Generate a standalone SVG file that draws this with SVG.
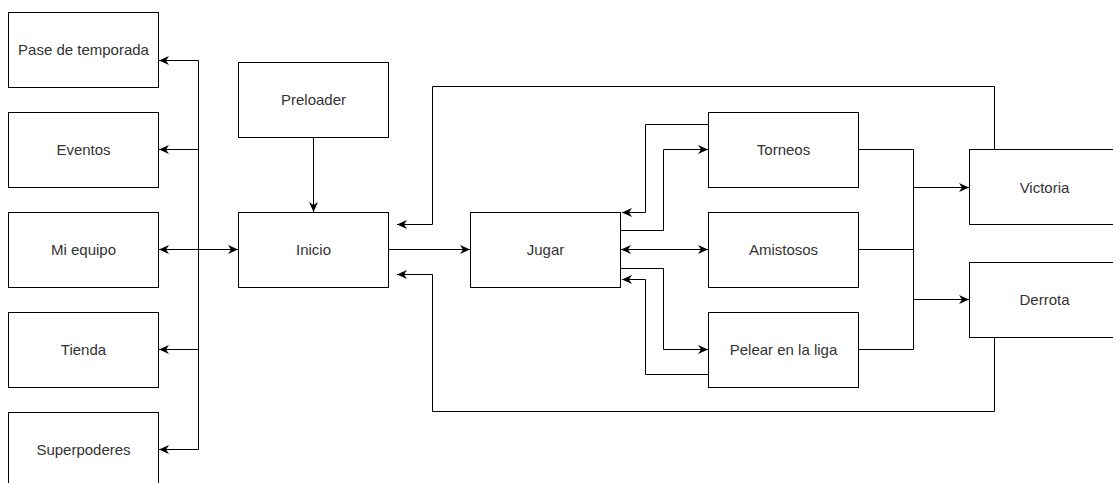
<svg xmlns="http://www.w3.org/2000/svg" width="1113" height="483" viewBox="0 0 1113 483">
<style>
.box{fill:#fff;stroke:#000;stroke-width:1}
.lbl{font-family:"Liberation Sans",Arial,sans-serif;font-size:15px;fill:#333;text-anchor:middle;dominant-baseline:central}
.edge{fill:none;stroke:#000;stroke-width:1}
</style>
<defs>
<marker id="arr" viewBox="0 0 10 10" refX="10" refY="5" markerWidth="10" markerHeight="10" markerUnits="userSpaceOnUse" orient="auto-start-reverse">
<path d="M0,0.5 L10,5 L0,9.5 L3,5 z" fill="#000"/>
</marker>
</defs>
<rect width="1113" height="483" fill="#fff"/>
<g id="connectors">
<path class="edge" d="M198.5,249.5 V60.5 H159" marker-end="url(#arr)"/>
<path class="edge" d="M198.5,249.5 V149.5 H159" marker-end="url(#arr)"/>
<path class="edge" d="M198.5,249.5 V349.5 H159" marker-end="url(#arr)"/>
<path class="edge" d="M198.5,249.5 V449.5 H159" marker-end="url(#arr)"/>
<path class="edge" d="M159,249.5 H238" marker-start="url(#arr)" marker-end="url(#arr)"/>
<path class="edge" d="M313.5,137.5 V212" marker-end="url(#arr)"/>
<path class="edge" d="M388.5,249.5 H470" marker-end="url(#arr)"/>
<path class="edge" d="M994.5,149.5 V86.5 H432.5 V224.5 H397" marker-end="url(#arr)"/>
<path class="edge" d="M994.5,337.5 V411.5 H432.5 V274.5 H397" marker-end="url(#arr)"/>
<path class="edge" d="M620.5,230.5 H663.5 V149.5 H708" marker-end="url(#arr)"/>
<path class="edge" d="M708.5,124.5 H645.5 V212.5 H622" marker-end="url(#arr)"/>
<path class="edge" d="M621,249.5 H708" marker-start="url(#arr)" marker-end="url(#arr)"/>
<path class="edge" d="M620.5,268.5 H663.5 V349.5 H708" marker-end="url(#arr)"/>
<path class="edge" d="M708.5,374.5 H645.5 V279.5 H622" marker-end="url(#arr)"/>
<path class="edge" d="M858.5,149.5 H913.5 V187.5 H969" marker-end="url(#arr)"/>
<path class="edge" d="M858.5,249.5 H913.5 V187.5"/>
<path class="edge" d="M858.5,349.5 H913.5 V299.5 H969" marker-end="url(#arr)"/>
<path class="edge" d="M913.5,249.5 V299.5"/>
</g>
<g id="pase"><rect class="box" x="8.5" y="12.5" width="150" height="75"/><text class="lbl" x="83.5" y="49.5">Pase de temporada</text></g>
<g id="eventos"><rect class="box" x="8.5" y="112.5" width="150" height="75"/><text class="lbl" x="83.5" y="149.5">Eventos</text></g>
<g id="miequipo"><rect class="box" x="8.5" y="212.5" width="150" height="75"/><text class="lbl" x="83.5" y="249.5">Mi equipo</text></g>
<g id="tienda"><rect class="box" x="8.5" y="312.5" width="150" height="75"/><text class="lbl" x="83.5" y="349.5">Tienda</text></g>
<g id="superpoderes"><rect class="box" x="8.5" y="412.5" width="150" height="75"/><text class="lbl" x="83.5" y="449.5">Superpoderes</text></g>
<g id="preloader"><rect class="box" x="238.5" y="62.5" width="150" height="75"/><text class="lbl" x="313.5" y="99.5">Preloader</text></g>
<g id="inicio"><rect class="box" x="238.5" y="212.5" width="150" height="75"/><text class="lbl" x="313.5" y="249.5">Inicio</text></g>
<g id="jugar"><rect class="box" x="470.5" y="212.5" width="150" height="75"/><text class="lbl" x="545.5" y="249.5">Jugar</text></g>
<g id="torneos"><rect class="box" x="708.5" y="112.5" width="150" height="75"/><text class="lbl" x="783.5" y="149.5">Torneos</text></g>
<g id="amistosos"><rect class="box" x="708.5" y="212.5" width="150" height="75"/><text class="lbl" x="783.5" y="249.5">Amistosos</text></g>
<g id="pelear"><rect class="box" x="708.5" y="312.5" width="150" height="75"/><text class="lbl" x="783.5" y="349.5">Pelear en la liga</text></g>
<g id="victoria"><rect class="box" x="969.5" y="149.5" width="150" height="75"/><text class="lbl" x="1044.5" y="187">Victoria</text></g>
<g id="derrota"><rect class="box" x="969.5" y="262.5" width="150" height="75"/><text class="lbl" x="1044.5" y="299.5">Derrota</text></g>
</svg>
